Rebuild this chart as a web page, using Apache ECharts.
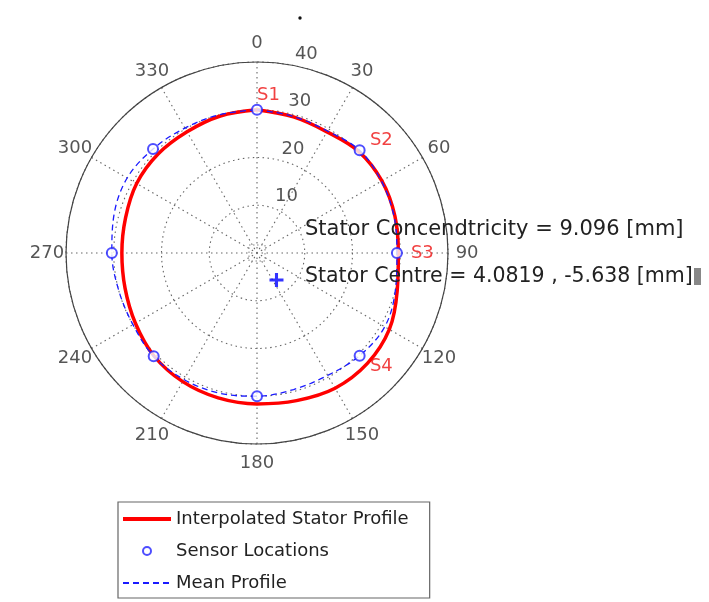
<!DOCTYPE html>
<html>
<head>
<meta charset="utf-8">
<script src="https://cdn.jsdelivr.net/npm/echarts@6/dist/echarts.min.js"></script>
<style>
html,body{margin:0;padding:0;background:#fff;}
#chart{width:709px;height:602px;}
</style>
</head>
<body>
<div id="chart"></div>
<script>
// ---- data ----
const profileAngles = [0,15,30,45,60,75,90,105,120,135,150,165,180,195,210,225,240,255,270,285,300,315,330,345,360];
const profileRadius = [30.0,29.5,29.3,30.1,30.2,29.9,29.6,30.4,32.0,32.7,32.7,32.0,31.6,31.4,31.1,30.5,29.4,28.6,28.3,28.5,29.1,29.3,29.3,29.7,30.0];
const meanRadius    = [30.0,29.6,29.5,30.4,30.1,29.7,29.3,30.0,30.9,30.4,29.6,29.6,30.0,30.4,30.6,30.6,30.0,30.0,30.4,31.0,31.4,30.8,30.2,30.0,30.0];
const sensorAngles  = [0,45,90,135,180,225,270,315];
const sensorRadius  = [30.0,30.4,29.3,30.4,30.0,30.6,30.4,30.8];
const sensorNames   = ['S1','S2','S3','S4'];
const angleTicks    = [0,30,60,90,120,150,180,210,240,270,300,330];
const angleTickLabels = ['0','30','60','90','120','150','180','210','240','270','300','330'];
const radiusTicks   = [10,20,30,40];
const radiusTickLabels = ['10','20','30','40'];
const centreXY      = [4.0819, -5.638];
const concentricity = '9.096';
const legendNames   = ['Interpolated Stator Profile','Sensor Locations','Mean Profile'];

const RMAX = 40;
const FONT = 'DejaVu Sans';

const zip = (rs, as) => rs.map((r, i) => [r, as[i]]);
const centreR = Math.sqrt(centreXY[0]*centreXY[0] + centreXY[1]*centreXY[1]);
const centreA = (Math.atan2(centreXY[0], centreXY[1]) * 180 / Math.PI + 360) % 360;

const chart = echarts.init(document.getElementById('chart'));
chart.setOption({
  animation: false,
  backgroundColor: '#fff',
  polar: { center: [257, 253], radius: 191 },
  angleAxis: {
    type: 'value', min: 0, max: 360, interval: 30, startAngle: 90, clockwise: true,
    axisLine: { lineStyle: { color: '#444', width: 1.2 } },
    axisTick: { show: false },
    axisLabel: { show: false },
    splitLine: { show: true, lineStyle: { color: '#666', width: 1.1, type: [1.5, 3.5] } }
  },
  radiusAxis: {
    type: 'value', min: 0, max: RMAX, interval: 10,
    axisLine: { show: false }, axisTick: { show: false }, axisLabel: { show: false },
    splitLine: { show: true, lineStyle: { color: '#666', width: 1.1, type: [1.5, 3.5] } }
  },
  legend: {
    data: [
      { name: legendNames[0], itemStyle: { opacity: 0 }, lineStyle: { width: 4 } },
      { name: legendNames[1] },
      { name: legendNames[2], itemStyle: { opacity: 0 } }
    ],
    orient: 'vertical',
    left: 118, top: 502,
    padding: [7, 21, 5, 3],
    itemGap: 12,
    itemWidth: 48,
    itemHeight: 8,
    backgroundColor: '#fff',
    borderColor: '#666', borderWidth: 1.2,
    textStyle: { fontFamily: FONT, fontSize: 18, color: '#222', lineHeight: 20 }
  },
  series: [
    {
      name: 'centreBox', type: 'scatter', coordinateSystem: 'polar', silent: true,
      symbol: 'rect', symbolSize: 16, z: 1,
      itemStyle: { color: 'none', borderColor: '#666', borderWidth: 1, borderType: [1.5, 2.5] },
      data: [[0, 0]]
    },
    {
      name: legendNames[0], type: 'line', coordinateSystem: 'polar',
      symbol: 'none', smooth: 0.35, z: 3,
      lineStyle: { color: '#ff0000', width: 3.5 },
      itemStyle: { color: '#ff0000' },
      data: zip(profileRadius, profileAngles)
    },
    {
      name: legendNames[1], type: 'scatter', coordinateSystem: 'polar',
      symbol: 'emptyCircle', symbolSize: 10, z: 5,
      itemStyle: { color: '#2222ff', borderColor: '#2222ff', borderWidth: 1.2 },
      data: zip(sensorRadius, sensorAngles)
    },
    {
      name: legendNames[2], type: 'line', coordinateSystem: 'polar',
      symbol: 'none', smooth: 0.35, z: 4,
      lineStyle: { color: '#1a1aff', width: 1.3, type: [6, 4] },
      itemStyle: { color: '#1a1aff' },
      data: zip(meanRadius, profileAngles)
    },
    {
      name: 'sensorLabels', type: 'scatter', coordinateSystem: 'polar', silent: true, clip: false,
      symbolSize: 1, itemStyle: { color: 'transparent' }, z: 6,
      label: { show: true, position: 'inside', align: 'left', verticalAlign: 'middle',
               formatter: p => p.name, color: '#ee1111', fontFamily: FONT, fontSize: 18 },
      data: sensorNames.map((n, i) => ({ name: n, value: [sensorRadius[i] * 1.1, sensorAngles[i]] }))
    },
    {
      name: 'centreMark', type: 'scatter', coordinateSystem: 'polar', silent: true, z: 6,
      symbol: 'path://M3.9,0H6.1V3.9H10V6.1H6.1V10H3.9V6.1H0V3.9H3.9Z', symbolSize: 14,
      itemStyle: { color: '#0000ff' },
      data: [[centreR, centreA]]
    },
    {
      name: 'angleLabels', type: 'scatter', coordinateSystem: 'polar', silent: true, clip: false,
      symbolSize: 1, itemStyle: { color: 'transparent' }, z: 6,
      label: { show: true, position: 'inside', align: 'center', verticalAlign: 'middle',
               formatter: p => p.name, color: '#2a2a2a', fontFamily: FONT, fontSize: 18 },
      data: angleTicks.map((a, i) => ({ name: angleTickLabels[i], value: [RMAX * 1.1, a] }))
    },
    {
      name: 'radiusLabels', type: 'scatter', coordinateSystem: 'polar', silent: true, clip: false,
      symbolSize: 1, itemStyle: { color: 'transparent' }, z: 6,
      label: { show: true, position: 'inside', align: 'left', verticalAlign: 'bottom',
               offset: [11, 2], formatter: p => p.name, color: '#2a2a2a', fontFamily: FONT, fontSize: 18 },
      data: radiusTicks.map((r, i) => ({ name: radiusTickLabels[i], value: [r + 0.5, 8] }))
    }
  ],
  graphic: [
    { type: 'circle', shape: { cx: 300, cy: 18, r: 1.7 }, style: { fill: '#111' } },
    { type: 'text', x: 305, y: 230, z: 10,
      style: { text: 'Stator Concendtricity = ' + concentricity + ' [mm]', font: '21px "DejaVu Sans"', fill: '#222', verticalAlign: 'middle' } },
    { type: 'text', x: 305, y: 277, z: 10,
      style: { text: 'Stator Centre = ' + centreXY[0].toFixed(4) + ' , ' + centreXY[1].toFixed(3) + ' [mm]', font: '20.5px "DejaVu Sans"', fill: '#222', verticalAlign: 'middle' } },
    { type: 'rect', shape: { x: 694, y: 268, width: 7, height: 17 }, style: { fill: '#888' } }
  ]
});
</script>
</body>
</html>
